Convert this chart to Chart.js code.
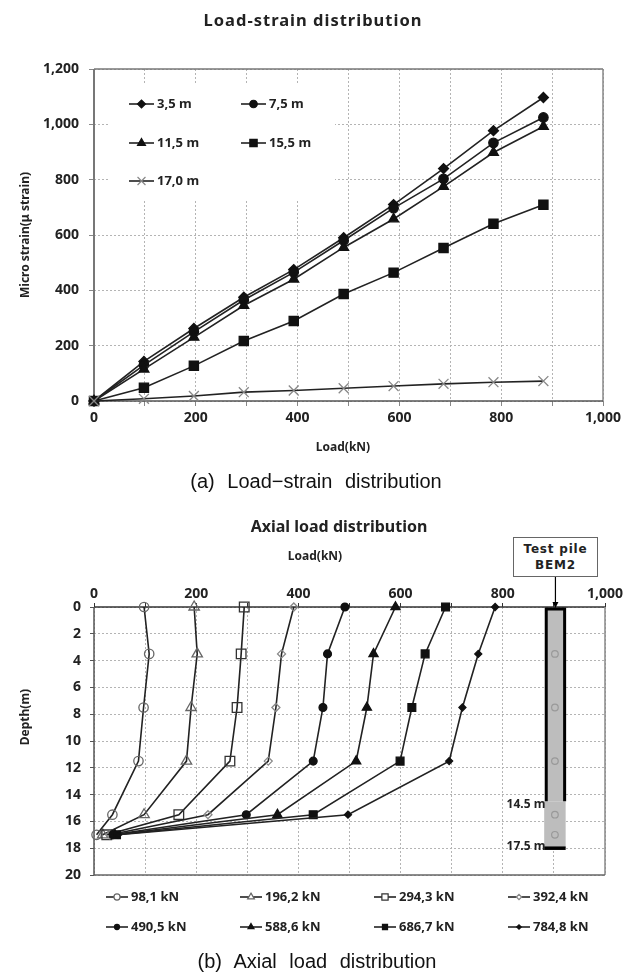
<!DOCTYPE html>
<html>
<head>
<meta charset="utf-8">
<script src="https://cdn.jsdelivr.net/npm/chart.js@4/dist/chart.umd.js"></script>
<style>
  html, body { margin: 0; padding: 0; background: #fff; }
  #page { position: relative; width: 636px; height: 974px; overflow: hidden; font-family: "Noto Sans", sans-serif; color: #222; }
  canvas { position: absolute; left: 0; }
  .t { position: absolute; white-space: nowrap; font-weight: 700; transform: translate(-50%, -50%); }
  .title { font-size: 16.5px; letter-spacing: 1px; }
  .title2 { font-size: 16px; }
  .axis { font-size: 12px; }
  .cap { font-family: "Liberation Sans", sans-serif; font-weight: 400; font-size: 20px; color: #111; word-spacing: 7px; }
  .rot { transform: translate(-50%, -50%) rotate(-90deg); }
  #pilebox { position: absolute; left: 513px; top: 537px; width: 83px; height: 38px; border: 1px solid #666; background: #fff;
             font-family: "DejaVu Sans", sans-serif; font-weight: 700; font-size: 12px; letter-spacing: 0.8px; line-height: 16px; text-align: center; }
  #pilebox div { margin-top: 3px; }
</style>
</head>
<body>
<div id="page">
  <canvas id="strain" width="636" height="500" style="top:0"></canvas>
  <canvas id="axial" width="636" height="474" style="top:500px"></canvas>

  <div class="t title" style="left:313px;top:19px">Load-strain distribution</div>
  <div class="t axis rot" style="left:24px;top:235px">Micro strain(μ strain)</div>
  <div class="t axis" style="left:343px;top:446px">Load(kN)</div>
  <div class="t cap" style="left:316px;top:481px">(a) Load−strain distribution</div>

  <div class="t title2" style="left:339px;top:526px">Axial load distribution</div>
  <div class="t axis" style="left:315px;top:555px">Load(kN)</div>
  <div class="t axis rot" style="left:24px;top:717px">Depth(m)</div>
  <div id="pilebox"><div>Test pile<br>BEM2</div></div>
  <div class="t axis" style="left:526px;top:803px">14.5 m</div>
  <div class="t axis" style="left:526px;top:845px">17.5 m</div>
  <div class="t cap" style="left:317px;top:961px">(b) Axial load distribution</div>
</div>

<script>
// top chart, load vs strain
const loads = [0, 98.1, 196.2, 294.3, 392.4, 490.5, 588.6, 686.7, 784.8, 882.9];
const strain35 = [0, 143, 262, 375, 475, 590, 710, 840, 977, 1097];
const strain75 = [0, 130, 250, 365, 465, 580, 697, 803, 933, 1025];
const strain115 = [0, 115, 230, 345, 440, 555, 658, 775, 898, 992];
const strain155 = [0, 48, 127, 217, 289, 387, 464, 553, 641, 709];
const strain170 = [0, 8, 18, 32, 38, 46, 54, 62, 68, 72];
const strainNames = ['3,5 m', '7,5 m', '11,5 m', '15,5 m', '17,0 m'];

// bottom chart, axial load vs depth
const depths = [0, 3.5, 7.5, 11.5, 15.5, 17];
const axial98 = [98, 108, 97, 87, 36, 5];
const axial196 = [196, 202, 190, 181, 98, 17];
const axial294 = [294, 288, 280, 266, 166, 25];
const axial392 = [391, 367, 356, 341, 223, 31];
const axial490 = [491, 457, 448, 429, 298, 37];
const axial588 = [590, 547, 534, 513, 359, 41];
const axial686 = [688, 648, 622, 599, 429, 44];
const axial784 = [785, 752, 721, 695, 497, 47];
const axialNames = ['98,1 kN', '196,2 kN', '294,3 kN', '392,4 kN', '490,5 kN', '588,6 kN', '686,7 kN', '784,8 kN'];

// the pile sketch on the right of the bottom chart
const gaugeDepths = [3.5, 7.5, 11.5, 15.5, 17];
const gaugeLoads = [902, 902, 902, 902, 902];

const tickFont = { family: '"Noto Sans", sans-serif', size: 14, weight: '700' };
const gridColor = '#b4b4b4';
const lineColor = '#222';

const strainMarks = [
  { pointStyle: 'rectRot', pointRadius: 5, color: '#111', fill: '#111' },
  { pointStyle: 'circle', pointRadius: 4.7, color: '#111', fill: '#111' },
  { pointStyle: 'triangle', pointRadius: 5.7, color: '#111', fill: '#111' },
  { pointStyle: 'rect', pointRadius: 6.5, color: '#111', fill: '#111' },
  { pointStyle: 'crossRot', pointRadius: 7, color: '#888', fill: '#888' },
];
const axialMarks = [
  { pointStyle: 'circle', pointRadius: 4.7, color: '#666', fill: 'transparent' },
  { pointStyle: 'triangle', pointRadius: 6, color: '#666', fill: 'transparent' },
  { pointStyle: 'rect', pointRadius: 6.8, color: '#333', fill: 'transparent' },
  { pointStyle: 'rectRot', pointRadius: 4, color: '#888', fill: 'transparent' },
  { pointStyle: 'circle', pointRadius: 3.9, color: '#111', fill: '#111' },
  { pointStyle: 'triangle', pointRadius: 5.3, color: '#111', fill: '#111' },
  { pointStyle: 'rect', pointRadius: 5.5, color: '#111', fill: '#111' },
  { pointStyle: 'rectRot', pointRadius: 3.5, color: '#111', fill: '#111' },
];

function series(name, xs, ys, mark, i) {
  return {
    label: name,
    data: xs.map((x, k) => ({ x: x, y: ys[k] })),
    showLine: true,
    tension: 0,
    borderColor: lineColor,
    borderWidth: 1.6,
    pointStyle: mark.pointStyle,
    pointRadius: mark.pointRadius,
    pointBorderColor: mark.color,
    pointBackgroundColor: mark.fill,
    pointBorderWidth: 1.3,
    clip: false,
    order: -i,
  };
}

const thousands = v => v.toLocaleString('en-US');
const everyOther = v => (v % 200 === 0 ? thousands(v) : '');

// legend with a line through the marker, chart.js only gives one or the other
function legendPlugin(names, marks, columns, rows, lineLen, markScale) {
  return {
    id: 'lineLegend',
    afterDatasetsDraw(chart) {
      const ctx = chart.ctx;
      ctx.save();
      names.forEach((name, i) => {
        const x = columns[i % columns.length];
        const y = rows[Math.floor(i / columns.length)];
        ctx.strokeStyle = lineColor;
        ctx.lineWidth = 1.6;
        ctx.beginPath();
        ctx.moveTo(x, y);
        ctx.lineTo(x + lineLen, y);
        ctx.stroke();
        const m = marks[i];
        ctx.strokeStyle = m.color;
        ctx.fillStyle = m.fill === 'transparent' ? '#fff' : m.fill;
        ctx.lineWidth = 1.2;
        Chart.helpers.drawPoint(ctx, { pointStyle: m.pointStyle, rotation: 0, radius: m.pointRadius * markScale, borderWidth: 1.2 }, x + lineLen / 2, y);
        ctx.fillStyle = '#222';
        ctx.font = '700 13px "Noto Sans", sans-serif';
        ctx.textAlign = 'left';
        ctx.textBaseline = 'middle';
        ctx.fillText(name, x + lineLen + 3, y);
      });
      ctx.restore();
    },
  };
}

function framePlugin(sides) {
  return {
    id: 'frame',
    beforeDatasetsDraw(chart) {
      const a = chart.chartArea;
      const ctx = chart.ctx;
      const edge = (x1, y1, x2, y2, s) => {
        ctx.strokeStyle = s[0];
        ctx.lineWidth = s[1];
        ctx.beginPath();
        ctx.moveTo(x1, y1);
        ctx.lineTo(x2, y2);
        ctx.stroke();
      };
      ctx.save();
      edge(a.left, a.top, a.right, a.top, sides.top);
      edge(a.right, a.top, a.right, a.bottom, sides.right);
      edge(a.left, a.bottom, a.right, a.bottom, sides.bottom);
      edge(a.left, a.top, a.left, a.bottom, sides.left);
      ctx.restore();
    },
  };
}

// the legend sits on a white patch that hides the grid
const legendPatch = {
  id: 'legendPatch',
  beforeDatasetsDraw(chart) {
    chart.ctx.save();
    chart.ctx.fillStyle = '#fff';
    chart.ctx.fillRect(109, 84, 226, 116);
    chart.ctx.restore();
  },
};

const pilePlugin = {
  id: 'pile',
  beforeDatasetsDraw(chart) {
    const ctx = chart.ctx;
    const x = chart.scales.x;
    const y = chart.scales.y;
    const left = x.getPixelForValue(885);
    const right = x.getPixelForValue(921);
    const wideLeft = x.getPixelForValue(881);
    const wideRight = x.getPixelForValue(923);
    const top = y.getPixelForValue(0.15);
    const cased = y.getPixelForValue(14.5);
    const tip = y.getPixelForValue(18);
    ctx.save();
    ctx.fillStyle = '#bdbdbd';
    ctx.fillRect(left, top, right - left, cased - top);
    ctx.fillRect(wideLeft, cased, wideRight - wideLeft, tip - cased);
    ctx.strokeStyle = '#000';
    ctx.lineWidth = 3;
    ctx.beginPath();
    ctx.moveTo(left, cased);
    ctx.lineTo(left, top);
    ctx.lineTo(right, top);
    ctx.lineTo(right, cased);
    ctx.stroke();
    ctx.lineWidth = 3.5;
    ctx.beginPath();
    ctx.moveTo(wideLeft, tip);
    ctx.lineTo(wideRight, tip);
    ctx.stroke();
    // arrow from the callout box
    const ax = x.getPixelForValue(903);
    ctx.lineWidth = 1.2;
    ctx.fillStyle = '#000';
    ctx.beginPath();
    ctx.moveTo(ax, 76);
    ctx.lineTo(ax, top - 4);
    ctx.stroke();
    ctx.beginPath();
    ctx.moveTo(ax, top - 1);
    ctx.lineTo(ax - 3, top - 7);
    ctx.lineTo(ax + 3, top - 7);
    ctx.closePath();
    ctx.fill();
    ctx.restore();
  },
};

const strainValues = [strain35, strain75, strain115, strain155, strain170];

new Chart(document.getElementById('strain').getContext('2d'), {
  type: 'scatter',
  data: {
    datasets: strainValues.map((ys, i) => series(strainNames[i], loads, ys, strainMarks[i], i)),
  },
  options: {
    responsive: false,
    animation: false,
    layout: { padding: { left: 0, top: 69, right: 33, bottom: 69 } },
    plugins: { legend: { display: false }, tooltip: { enabled: false } },
    scales: {
      x: {
        type: 'linear',
        min: 0,
        max: 1000,
        afterFit: s => { s.height = 30; },
        ticks: { stepSize: 100, autoSkip: false, maxRotation: 0, callback: everyOther, font: tickFont, color: '#222', padding: 4 },
        grid: { color: gridColor, tickColor: '#888', tickLength: 5 },
        border: { dash: [2, 2], display: false },
      },
      y: {
        min: 0,
        max: 1200,
        afterFit: s => { s.width = 94; },
        ticks: { stepSize: 200, callback: thousands, font: tickFont, color: '#222', padding: 10 },
        grid: { color: gridColor, tickColor: '#888', tickLength: 5 },
        border: { dash: [2, 2], display: false },
      },
    },
  },
  plugins: [
    legendPatch,
    framePlugin({ top: ['#777', 1.5], right: ['#888', 1.5], bottom: ['#555', 1.5], left: ['#777', 2] }),
    legendPlugin(strainNames, strainMarks, [129, 241], [104, 143, 181], 25, 0.8),
  ],
});

const axialValues = [axial98, axial196, axial294, axial392, axial490, axial588, axial686, axial784];
const axialSets = axialValues.map((xs, i) => series(axialNames[i], xs, depths, axialMarks[i], i));
axialSets.push({
  label: 'gauges',
  data: gaugeLoads.map((x, k) => ({ x: x, y: gaugeDepths[k] })),
  showLine: false,
  pointStyle: 'circle',
  pointRadius: 3.3,
  pointBorderColor: '#999',
  pointBackgroundColor: 'transparent',
  pointBorderWidth: 1.2,
  order: 5,
});

new Chart(document.getElementById('axial').getContext('2d'), {
  type: 'scatter',
  data: { datasets: axialSets },
  options: {
    responsive: false,
    animation: false,
    layout: { padding: { left: 0, top: 77, right: 31, bottom: 99 } },
    plugins: { legend: { display: false }, tooltip: { enabled: false } },
    scales: {
      x: {
        type: 'linear',
        position: 'top',
        min: 0,
        max: 1000,
        afterFit: s => { s.height = 30; },
        ticks: { stepSize: 100, autoSkip: false, maxRotation: 0, callback: everyOther, font: tickFont, color: '#222', padding: 1 },
        grid: { color: gridColor, tickColor: '#333', tickLength: 4 },
        border: { dash: [2, 2], display: false },
      },
      y: {
        reverse: true,
        min: 0,
        max: 20,
        afterFit: s => { s.width = 94; },
        ticks: { stepSize: 2, font: tickFont, color: '#222', padding: 9 },
        grid: { color: gridColor, tickColor: '#555', tickLength: 4 },
        border: { dash: [2, 2], display: false },
      },
    },
  },
  plugins: [
    framePlugin({ top: ['#333', 1.5], right: ['#888', 1.5], bottom: ['#666', 1.5], left: ['#555', 1.5] }),
    pilePlugin,
    legendPlugin(axialNames, axialMarks, [106, 240, 374, 508], [397, 427], 22, 0.65),
  ],
});
</script>
</body>
</html>
